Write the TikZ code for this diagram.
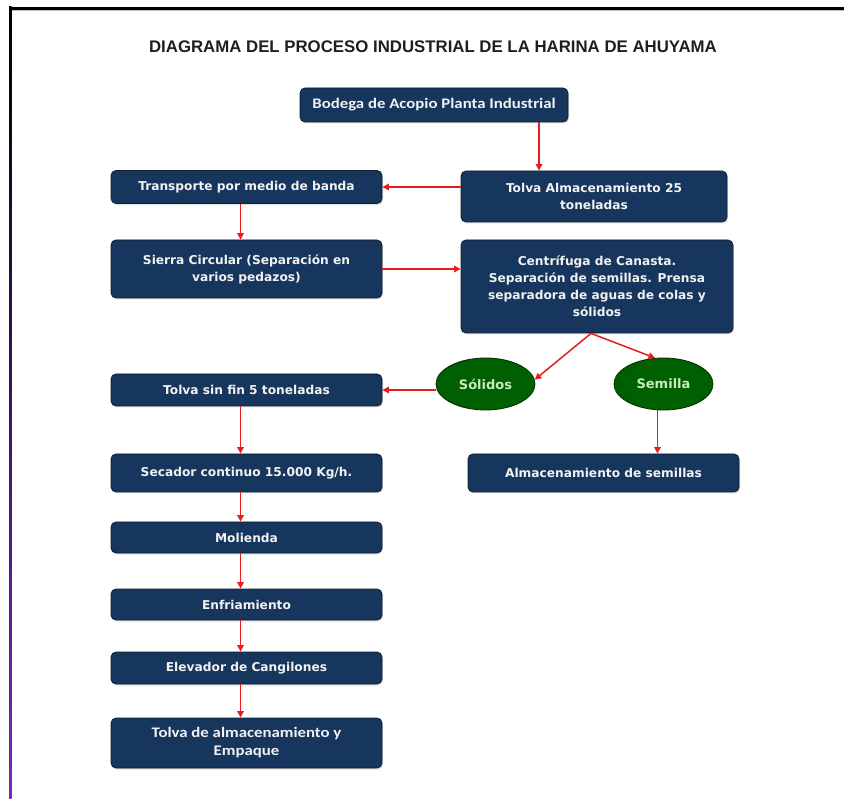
\documentclass[tikz,border=0pt]{standalone}
\usepackage{fontspec}
\setmainfont{DejaVu Sans}
\newfontfamily\titlefont{Liberation Sans}
\newfontfamily\narrowfont[FakeStretch=1.15]{Carlito}
\usetikzlibrary{shapes.geometric,arrows.meta,shadows}

\definecolor{boxnavy}{RGB}{23,54,93}
\definecolor{boxedge}{RGB}{20,30,45}
\definecolor{ovalgreen}{RGB}{0,95,0}
\definecolor{ovaledge}{RGB}{0,45,0}
\definecolor{ovaltext}{RGB}{200,235,190}
\definecolor{flowred}{RGB}{232,28,28}
\definecolor{edgeviolet}{RGB}{120,40,190}

\tikzset{
  procbox/.style={draw=boxedge, line width=0.8pt, fill=boxnavy, rounded corners=5pt,
    text=white!90!gray, align=center, inner sep=0pt,
    font=\bfseries\fontsize{12.2}{17}\selectfont,
    drop shadow={opacity=0.25, shadow xshift=1pt, shadow yshift=-1.5pt}},
  narrowbox/.style={procbox, font=\narrowfont\bfseries\fontsize{14.6}{18}\selectfont},
  oval/.style={ellipse, draw=ovaledge, line width=0.8pt, fill=ovalgreen, inner sep=0pt,
    text=ovaltext, font=\bfseries\fontsize{13}{15}\selectfont},
  flow/.style={draw=flowred, line width=1.5pt, -{Triangle[length=6.5pt,width=6.5pt]}},
  heading/.style={font=\titlefont\bfseries\fontsize{16.8}{19}\selectfont, text=black!88}
}

\begin{document}
\begin{tikzpicture}[x=1pt,y=-1pt]
\useasboundingbox (0,0) rectangle (844,799);
\fill[white] (0,0) rectangle (844,799);

% page frame
\fill[black] (9,7) rectangle (844,10);
\fill[black!25] (11,10) rectangle (844,11.5);
\shade[top color=black, bottom color=edgeviolet] (9,7) rectangle (11.5,799);

% title
\node[heading] (title) at (433,47) {DIAGRAMA DEL PROCESO INDUSTRIAL DE LA HARINA DE AHUYAMA};

% process boxes
\node[narrowbox, minimum width=268pt, minimum height=34pt] (bodega) at (434,105) {Bodega de Acopio Planta Industrial};
\node[procbox, minimum width=266pt, minimum height=51pt] (tolva25) at (594,196.5) {Tolva Almacenamiento 25\\toneladas};
\node[procbox, minimum width=271pt, minimum height=33pt] (transp) at (246.5,187) {Transporte por medio de banda};
\node[procbox, minimum width=271pt, minimum height=58pt] (sierra) at (246.5,269) {Sierra Circular (Separación en\\varios pedazos)};
\node[procbox, minimum width=272pt, minimum height=93pt] (centri) at (597,286.5) {Centrífuga de Canasta.\\Separación de semillas. Prensa\\separadora de aguas de colas y\\sólidos};
\node[oval, minimum width=99pt, minimum height=52pt] (solidos) at (485.5,384) {Sólidos};
\node[oval, minimum width=99pt, minimum height=52pt] (semilla) at (663.5,384) {Semilla};
\node[procbox, minimum width=271pt, minimum height=32pt] (tolvafin) at (246.5,390) {Tolva sin fin 5 toneladas};
\node[procbox, minimum width=271pt, minimum height=38pt] (almsem) at (603.5,473) {Almacenamiento de semillas};
\node[procbox, minimum width=271pt, minimum height=38pt] (secador) at (246.5,473) {Secador continuo 15.000 Kg/h.};
\node[procbox, minimum width=271pt, minimum height=31pt] (molienda) at (246.5,537.5) {Molienda};
\node[procbox, minimum width=271pt, minimum height=31pt] (enfri) at (246.5,604.5) {Enfriamiento};
\node[procbox, minimum width=271pt, minimum height=32pt] (elev) at (246.5,668) {Elevador de Cangilones};
\node[narrowbox, minimum width=271pt, minimum height=50pt] (empaque) at (246.5,743) {Tolva de almacenamiento y\\Empaque};

% connectors
\draw[flow] ([xshift=105pt]bodega.south) -- ([xshift=-55pt]tolva25.north);
\draw[flow] (tolva25.west |- transp.east) -- (transp.east);
\draw[flow] ([xshift=-6pt]transp.south) -- ([xshift=-6pt]sierra.north);
\draw[flow] (sierra.east) -- (sierra.east -| centri.west);
\draw[flow] ([xshift=-6pt]centri.south) -- (solidos.5);
\draw[flow] ([xshift=-6pt]centri.south) -- (semilla.108);
\draw[flow] (solidos.west |- tolvafin.east) -- (tolvafin.east);
\draw[flow] ([xshift=-6pt]semilla.south) -- ([xshift=-6pt]semilla.south |- almsem.north);
\draw[flow] ([xshift=-6pt]tolvafin.south) -- ([xshift=-6pt]secador.north);
\draw[flow] ([xshift=-6pt]secador.south) -- ([xshift=-6pt]molienda.north);
\draw[flow] ([xshift=-6pt]molienda.south) -- ([xshift=-6pt]enfri.north);
\draw[flow] ([xshift=-6pt]enfri.south) -- ([xshift=-6pt]elev.north);
\draw[flow] ([xshift=-6pt]elev.south) -- ([xshift=-6pt]empaque.north);
\end{tikzpicture}
\end{document}
